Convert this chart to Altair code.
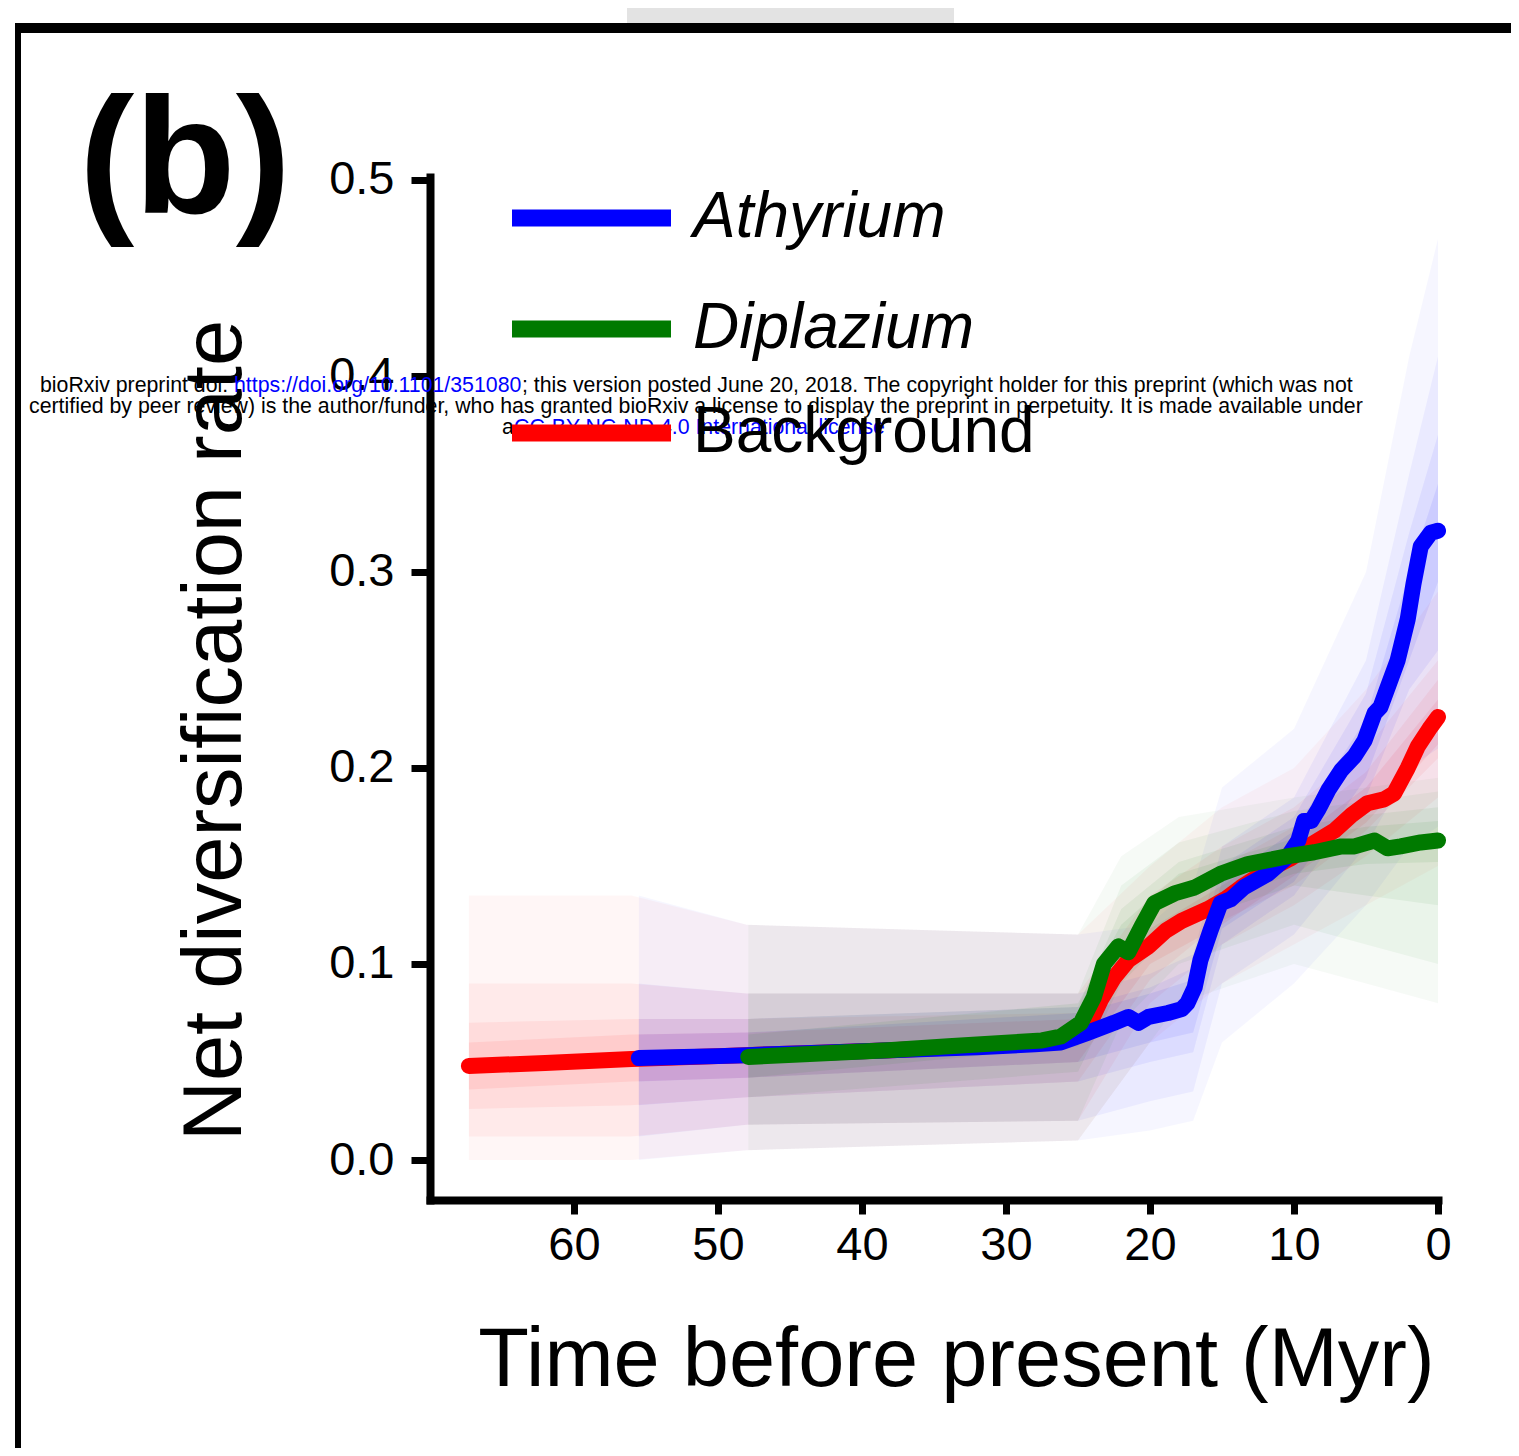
import altair as alt
import pandas as pd

FONT = "Liberation Sans"

# ---------------- data ----------------
SERIES = ["Athyrium", "Diplazium", "Background"]
COLORS = ["#0000ff", "#007a00", "#ff0000"]

x_ticks = [60, 50, 40, 30, 20, 10, 0]
y_ticks = [0.0, 0.1, 0.2, 0.3, 0.4, 0.5]

# Background (red) net diversification rate
red_t = [67.3, 62, 56, 50, 44, 38, 32, 28, 26, 24.8, 24.1, 23.4, 22.5, 21.5, 20.1, 18.9,
         17.8, 16.0, 14.8, 13.7, 11.8, 10.2, 9.0, 7.2, 6.0, 4.9, 3.75, 3.05, 2.1, 1.4, 0.6, 0]
red_v = [0.048, 0.0495, 0.0515, 0.053, 0.0545, 0.056, 0.058, 0.060, 0.062, 0.066, 0.071,
         0.082, 0.093, 0.102, 0.109, 0.117, 0.122, 0.128, 0.133, 0.139, 0.148, 0.154, 0.160,
         0.168, 0.176, 0.182, 0.184, 0.187, 0.200, 0.211, 0.220, 0.226]

# Athyrium (blue)
blue_t = [55.5, 50, 48, 44, 38, 32, 28, 26.2, 24.3, 22.5, 21.5, 20.8, 20.1, 18.75, 17.8,
          17.4, 16.9, 16.5, 15.8, 15.1, 14.4, 13.5, 11.8, 10.4, 9.7, 9.3, 8.8, 8.3, 7.6,
          6.7, 5.8, 5.1, 4.4, 4.0, 3.5, 2.8, 2.1, 1.7, 1.2, 0.5, 0]
blue_v = [0.052, 0.053, 0.0535, 0.0545, 0.056, 0.0575, 0.059, 0.060, 0.065, 0.070, 0.073,
          0.070, 0.073, 0.075, 0.077, 0.080, 0.088, 0.102, 0.117, 0.131, 0.133, 0.139, 0.146,
          0.155, 0.163, 0.173, 0.173, 0.179, 0.189, 0.199, 0.206, 0.214, 0.228, 0.231, 0.241,
          0.255, 0.276, 0.294, 0.313, 0.320, 0.321]

# Diplazium (green)
green_t = [47.9, 44, 38.2, 34, 30.3, 27.5, 26.2, 24.8, 23.9, 23.2, 22.2, 21.5, 20.6, 19.7,
           18.3, 16.9, 15.1, 13.2, 11.8, 10.4, 8.6, 6.7, 5.8, 4.4, 3.5, 2.6, 1.2, 0]
green_v = [0.0526, 0.054, 0.056, 0.058, 0.0597, 0.061, 0.063, 0.070, 0.083, 0.100, 0.109,
           0.106, 0.119, 0.131, 0.136, 0.139, 0.146, 0.151, 0.153, 0.155, 0.157, 0.160,
           0.160, 0.163, 0.159, 0.160, 0.162, 0.163]

# uncertainty shading (outer / mid / inner / core envelopes)
red_band_t = [67.3, 56, 48, 25, 20, 15, 10, 5, 0]
red_outer_hi = [0.135, 0.135, 0.12, 0.115, 0.15, 0.18, 0.20, 0.24, 0.29]
red_outer_lo = [0.0, 0.0, 0.005, 0.01, 0.06, 0.09, 0.11, 0.13, 0.15]
red_mid_hi = [0.09, 0.09, 0.085, 0.085, 0.135, 0.16, 0.18, 0.21, 0.255]
red_mid_lo = [0.012, 0.012, 0.018, 0.02, 0.08, 0.11, 0.13, 0.155, 0.185]
red_inner_hi = [0.07, 0.072, 0.072, 0.075, 0.125, 0.15, 0.17, 0.198, 0.245]
red_inner_lo = [0.026, 0.028, 0.032, 0.04, 0.092, 0.122, 0.14, 0.168, 0.205]
red_core_hi = [0.06, 0.064, 0.065, 0.072, 0.118, 0.14, 0.163, 0.19, 0.235]
red_core_lo = [0.036, 0.04, 0.042, 0.05, 0.10, 0.12, 0.145, 0.172, 0.212]

blue_band_t = [55.5, 48, 25, 20, 17, 15, 10, 5, 2, 0]
blue_outer_hi = [0.135, 0.12, 0.115, 0.12, 0.14, 0.19, 0.22, 0.30, 0.41, 0.47]
blue_outer_lo = [0.0, 0.005, 0.01, 0.015, 0.02, 0.06, 0.09, 0.13, 0.16, 0.17]
blue_mid_hi = [0.09, 0.085, 0.085, 0.095, 0.105, 0.16, 0.185, 0.255, 0.35, 0.41]
blue_mid_lo = [0.012, 0.018, 0.02, 0.03, 0.035, 0.09, 0.115, 0.16, 0.20, 0.21]
blue_inner_hi = [0.072, 0.072, 0.078, 0.088, 0.098, 0.15, 0.175, 0.238, 0.32, 0.37]
blue_inner_lo = [0.028, 0.032, 0.04, 0.05, 0.055, 0.11, 0.135, 0.185, 0.24, 0.26]
blue_core_hi = [0.064, 0.065, 0.075, 0.085, 0.092, 0.142, 0.168, 0.225, 0.30, 0.345]
blue_core_lo = [0.04, 0.042, 0.05, 0.06, 0.065, 0.118, 0.142, 0.195, 0.255, 0.295]

green_band_t = [47.9, 25, 22, 18, 10, 5, 0]
green_outer_hi = [0.12, 0.115, 0.155, 0.175, 0.185, 0.19, 0.195]
green_outer_lo = [0.005, 0.01, 0.04, 0.08, 0.10, 0.09, 0.08]
green_mid_hi = [0.085, 0.085, 0.14, 0.162, 0.178, 0.183, 0.188]
green_mid_lo = [0.018, 0.02, 0.07, 0.10, 0.12, 0.11, 0.10]
green_inner_hi = [0.072, 0.078, 0.128, 0.152, 0.17, 0.176, 0.18]
green_inner_lo = [0.032, 0.045, 0.09, 0.12, 0.14, 0.135, 0.13]
green_core_hi = [0.064, 0.08, 0.12, 0.146, 0.164, 0.17, 0.173]
green_core_lo = [0.042, 0.058, 0.098, 0.126, 0.146, 0.151, 0.152]

panel_label = "(b)"
x_title = "Time before present (Myr)"
y_title = "Net diversification rate"

wm1a = "bioRxiv preprint doi: "
wm1b = "https://doi.org/10.1101/351080"
wm1c = "; this version posted June 20, 2018. The copyright holder for this preprint (which was not"
wm2 = ("certified by peer review) is the author/funder, who has granted bioRxiv a license "
       "to display the preprint in perpetuity. It is made available under")
wm3a = "a"
wm3b = "CC-BY-NC-ND 4.0 International license"

# ---------------- tables ----------------
lines = {
    "Background": pd.DataFrame({"series": "Background", "t": red_t, "v": red_v}),
    "Athyrium": pd.DataFrame({"series": "Athyrium", "t": blue_t, "v": blue_v}),
    "Diplazium": pd.DataFrame({"series": "Diplazium", "t": green_t, "v": green_v}),
}

LEVELS = ["outer", "mid", "inner", "core"]
band_rows = []
for name, bt, levels in [
    ("Background", red_band_t, [(red_outer_lo, red_outer_hi), (red_mid_lo, red_mid_hi),
                                (red_inner_lo, red_inner_hi), (red_core_lo, red_core_hi)]),
    ("Athyrium", blue_band_t, [(blue_outer_lo, blue_outer_hi), (blue_mid_lo, blue_mid_hi),
                               (blue_inner_lo, blue_inner_hi), (blue_core_lo, blue_core_hi)]),
    ("Diplazium", green_band_t, [(green_outer_lo, green_outer_hi), (green_mid_lo, green_mid_hi),
                                 (green_inner_lo, green_inner_hi), (green_core_lo, green_core_hi)]),
]:
    for level, (lo, hi) in zip(LEVELS, levels):
        for t, a, b in zip(bt, lo, hi):
            band_rows.append({"series": name, "level": level, "key": name + level,
                              "t": t, "lo": a, "hi": b})
bands = pd.DataFrame(band_rows)

# ---------------- scales / encodings ----------------
W, H = 1008, 1023
OX, OY = 430, 177   # plot origin on the page

x_scale = alt.Scale(domain=[0, 70], reverse=True, nice=False, zero=False)
y_scale = alt.Scale(domain=[-0.0204, 0.5015], nice=False, zero=False)

x_enc = alt.X("t:Q", scale=x_scale,
              axis=alt.Axis(values=x_ticks, format="d", title=x_title, labelFlush=False,
                            titleX=956 - OX, titleY=1385 - (OY + H),
                            titleBaseline="alphabetic", titleAlign="center",
                            tickSize=14, labelPadding=8))
y_enc = alt.Y("v:Q", scale=y_scale,
              axis=alt.Axis(values=y_ticks, format=".1f", title=y_title, labelFlush=False,
                            titleX=240 - OX, titleY=730 - OY, titleAngle=-90,
                            titleBaseline="alphabetic", titleAlign="center",
                            tickSize=19, labelPadding=17))

SYM_LEN = 159.0
common_legend = dict(
    title=None, orient="none", legendX=129.5, direction="vertical",
    symbolType="M-5,0L5,0", symbolSize=(SYM_LEN / 5) ** 2, symbolStrokeWidth=17,
    symbolOpacity=1, labelOffset=69.5, padding=0,
    labelFont=FONT, labelFontSize=64, labelColor="black", labelLimit=1000,
)
legend_genus = alt.Legend(legendY=9, rowPadding=43, labelFontStyle="italic", **common_legend)
legend_bg = alt.Legend(legendY=224, labelFontStyle="normal", **common_legend)

genus_color = alt.Color("series:N", legend=legend_genus,
                        scale=alt.Scale(domain=SERIES[:2], range=COLORS[:2]))
bg_stroke = alt.Stroke("series:N", legend=legend_bg,
                       scale=alt.Scale(domain=SERIES[2:], range=COLORS[2:]))

one = pd.DataFrame({"d": [0]})


def rect(x1, x2, y1, y2, color):
    return alt.Chart(one).mark_rect(color=color).encode(
        x=alt.value(x1 - OX), x2=alt.value(x2 - OX),
        y=alt.value(y1 - OY), y2=alt.value(y2 - OY))


def text(s, x, y, size, color="black", weight="normal", align="left"):
    return alt.Chart(one).mark_text(
        text=s, font=FONT, fontSize=size, color=color, fontWeight=weight,
        align=align, baseline="alphabetic").encode(
        x=alt.value(x - OX), y=alt.value(y - OY))


frame = [
    rect(627, 954, 0, 24, "#e3e3e3"),
    rect(15, 1519, 23, 33, "black"),
    rect(15, 21, 23, 1460, "black"),
]

band_layer = alt.Chart(bands).mark_area(interpolate="linear", strokeWidth=0).encode(
    x=x_enc, y=y_enc, y2="hi:Q",
    fill=alt.Fill("series:N", scale=alt.Scale(domain=SERIES, range=COLORS), legend=None),
    opacity=alt.Opacity("level:N", scale=alt.Scale(domain=LEVELS,
                                                    range=[0.035, 0.07, 0.18, 0.34]), legend=None),
    detail="key:N",
).transform_calculate(v="datum.lo")

line_style = dict(strokeWidth=16, strokeCap="round", strokeJoin="round")
line_layers = [
    alt.Chart(lines["Background"]).mark_line(**line_style).encode(x=x_enc, y=y_enc, stroke=bg_stroke),
    alt.Chart(lines["Athyrium"]).mark_line(**line_style).encode(x=x_enc, y=y_enc, color=genus_color),
    alt.Chart(lines["Diplazium"]).mark_line(**line_style).encode(x=x_enc, y=y_enc, color=genus_color),
]

WM = 21.3
annotations = [
    text(panel_label, 79, 213, 166, weight="bold"),
    text(wm1a, 40, 392, WM),
    text(wm1b, 234, 392, WM, color="#0000ff"),
    text(wm1c, 522, 392, WM),
    text(wm2, 29, 413, WM),
    text(wm3a, 502, 434, WM),
    text(wm3b, 514, 434, WM, color="#0000ff"),
]

chart = alt.layer(*frame, band_layer, *line_layers, *annotations).properties(
    width=W, height=H,
    autosize=alt.AutoSizeParams(type="none"),
    padding={"left": OX - 8, "top": OY - 8, "right": 1503 - (OX - 8) - W, "bottom": 1440 - (OY - 8) - H},
).configure_view(stroke=None).configure_axis(
    grid=False, domainColor="black", domainWidth=8, domainCap="square",
    tickColor="black", tickWidth=7, labelFont=FONT, labelFontSize=47, labelColor="black",
    titleFont=FONT, titleFontSize=83, titleFontWeight="normal", titleColor="black",
)

chart.save("out.html", embed_options={"renderer": "svg", "actions": False})
